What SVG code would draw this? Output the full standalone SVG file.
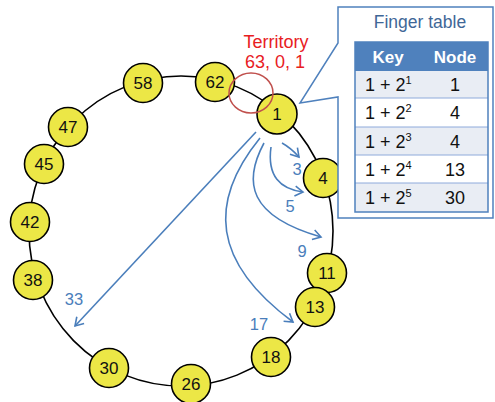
<svg xmlns="http://www.w3.org/2000/svg" width="495" height="402" viewBox="0 0 495 402">
<defs>
<style>
.node circle{fill:#ece746;stroke:#000;stroke-width:1.6}
.node text{font-family:"Liberation Sans",Arial,sans-serif;font-size:17px;fill:#111;text-anchor:middle}
.arr{fill:none;stroke:#4a7ebb;stroke-width:1.6}
.lbl{font-family:"Liberation Sans",Arial,sans-serif;font-size:16.5px;fill:#4a7ebb;text-anchor:middle}
.tt{font-family:"Liberation Sans",Arial,sans-serif;font-size:18px;fill:#111}
.th{font-family:"Liberation Sans",Arial,sans-serif;font-size:17px;font-weight:bold;fill:#fff;text-anchor:middle}
</style>
<marker id="ah" markerWidth="12" markerHeight="12" refX="10" refY="6" orient="auto" markerUnits="userSpaceOnUse">
<path d="M2,1 L10,6 L2,11" fill="none" stroke="#4a7ebb" stroke-width="1.6"/>
</marker>
</defs>
<rect width="495" height="402" fill="#fff"/>
<ellipse id="ring" cx="181" cy="231" rx="152" ry="155" fill="none" stroke="#000" stroke-width="1.6"/>
<g id="connectors">
<path class="arr" d="M282,143 Q291,148 299,157" marker-end="url(#ah)"/>
<path class="arr" d="M271,147 C267,176 280,189 303,192" marker-end="url(#ah)"/>
<path class="arr" d="M264,143 C243,182 248,216 321,237" marker-end="url(#ah)"/>
<path class="arr" d="M260,138 C208,202 212,262 293,322" marker-end="url(#ah)"/>
<path class="arr" d="M256,132 L75,326" marker-end="url(#ah)"/>
</g>
<g id="labels">
<text class="lbl" x="297" y="175">3</text>
<text class="lbl" x="290" y="212">5</text>
<text class="lbl" x="302" y="257">9</text>
<text class="lbl" x="259" y="330">17</text>
<text class="lbl" x="74" y="305">33</text>
</g>
<g id="n62" class="node"><circle cx="215" cy="82" r="19.5"/><text x="215" y="88">62</text></g>
<g id="n58" class="node"><circle cx="143" cy="83" r="19.5"/><text x="143" y="89">58</text></g>
<g id="n47" class="node"><circle cx="68" cy="127" r="19.5"/><text x="68" y="133">47</text></g>
<g id="n45" class="node"><circle cx="44" cy="164" r="19.5"/><text x="44" y="170">45</text></g>
<g id="n42" class="node"><circle cx="30" cy="222" r="19.5"/><text x="30" y="228">42</text></g>
<g id="n38" class="node"><circle cx="33" cy="280" r="19.5"/><text x="33" y="286">38</text></g>
<g id="n30" class="node"><circle cx="109" cy="368" r="19.5"/><text x="109" y="374">30</text></g>
<g id="n26" class="node"><circle cx="191" cy="384" r="19.5"/><text x="191" y="390">26</text></g>
<g id="n18" class="node"><circle cx="271" cy="357" r="19.5"/><text x="271" y="363">18</text></g>
<g id="n11" class="node"><circle cx="327" cy="273" r="19.5"/><text x="327" y="279">11</text></g>
<g id="n13" class="node"><circle cx="315" cy="307" r="19.5"/><text x="315" y="313">13</text></g>
<g id="n4" class="node"><circle cx="323" cy="178" r="19.5"/><text x="323" y="184">4</text></g>
<g id="n1" class="node"><circle cx="277" cy="114" r="20"/><text x="277" y="120">1</text></g>
<g id="territory">
<ellipse cx="251" cy="93" rx="22" ry="20" fill="none" stroke="#c0504d" stroke-width="1.5"/>
<text x="276" y="48" font-family="Liberation Sans,Arial,sans-serif" font-size="18" fill="#e8201f" text-anchor="middle">Territory</text>
<text x="275" y="68" font-family="Liberation Sans,Arial,sans-serif" font-size="18" fill="#e8201f" text-anchor="middle">63, 0, 1</text>
</g>
<g id="callout">
<path d="M338,7 L493,7 L493,218 L338,218 L338,97 L300,103 L338,43 Z" fill="#fff" stroke="#4f81bd" stroke-width="1.5"/>
<text x="420" y="28" font-family="Liberation Sans,Arial,sans-serif" font-size="17.5" fill="#3f6797" text-anchor="middle">Finger table</text>
<rect x="355" y="42" width="133" height="29" fill="#4f81bd"/>
<rect x="355" y="71" width="133" height="27" fill="#e9edf4"/>
<rect x="355" y="98" width="133" height="29" fill="#fff"/>
<rect x="355" y="127" width="133" height="28" fill="#e9edf4"/>
<rect x="355" y="155" width="133" height="28" fill="#fff"/>
<rect x="355" y="183" width="133" height="29" fill="#e9edf4"/>
<g stroke="#8eaadb" stroke-width="1">
<line x1="355" y1="98" x2="488" y2="98"/>
<line x1="355" y1="127" x2="488" y2="127"/>
<line x1="355" y1="155" x2="488" y2="155"/>
<line x1="355" y1="183" x2="488" y2="183"/>
</g>
<rect x="355" y="42" width="133" height="170" fill="none" stroke="#4f81bd" stroke-width="1.5"/>
<text class="th" x="388" y="63">Key</text>
<text class="th" x="455" y="63">Node</text>
<text class="tt" x="365" y="91">1 + 2<tspan font-size="11" dy="-7">1</tspan></text>
<text class="tt" x="365" y="119">1 + 2<tspan font-size="11" dy="-7">2</tspan></text>
<text class="tt" x="365" y="148">1 + 2<tspan font-size="11" dy="-7">3</tspan></text>
<text class="tt" x="365" y="176">1 + 2<tspan font-size="11" dy="-7">4</tspan></text>
<text class="tt" x="365" y="204">1 + 2<tspan font-size="11" dy="-7">5</tspan></text>
<text class="tt" x="455" y="91" text-anchor="middle">1</text>
<text class="tt" x="455" y="119" text-anchor="middle">4</text>
<text class="tt" x="455" y="148" text-anchor="middle">4</text>
<text class="tt" x="455" y="176" text-anchor="middle">13</text>
<text class="tt" x="455" y="204" text-anchor="middle">30</text>
</g>
</svg>
